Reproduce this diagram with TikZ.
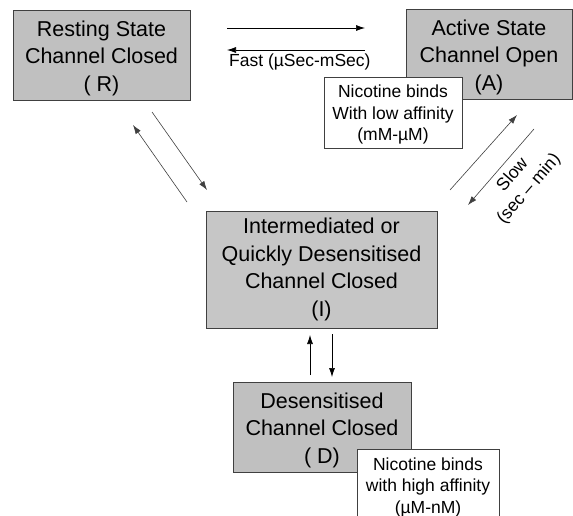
\documentclass[tikz,border=0pt]{standalone}
\usepackage{fontspec}
\setmainfont{Liberation Sans}
\usetikzlibrary{arrows.meta}
\definecolor{boxgray}{RGB}{192,192,192}
\definecolor{igray}{RGB}{198,198,198}
\definecolor{edgegray}{RGB}{64,64,64}
\newcommand\myTopStrut[1]{\rule{0pt}{#1}}
\tikzset{
  statebox/.style={draw=edgegray, line width=0.9pt, fill=boxgray, align=center,
    inner sep=0pt, font=\fontsize{21.5}{27.5}\selectfont},
  notebox/.style={draw=edgegray, line width=0.9pt, fill=white, align=center,
    inner sep=0pt, font=\fontsize{17.5}{21.5}\selectfont},
  arr/.style={line width=0.7pt, -{Latex[length=9pt,width=6pt]}},
  darr/.style={line width=0.6pt, draw=black!75, -{Latex[length=9pt,width=6pt]}},
  lbl/.style={font=\fontsize{17.5}{21.5}\selectfont, align=center, inner sep=0pt}
}
\begin{document}
\begin{tikzpicture}[x=1pt,y=-1pt]
\useasboundingbox (0,0) rectangle (573,516);
\node[statebox, minimum width=177pt, minimum height=90pt] (R) at (101.5,55) {\myTopStrut{22pt}Resting State\\Channel Closed\\( R)};
\node[statebox, minimum width=166pt, minimum height=90pt] (A) at (489,54) {\myTopStrut{22pt}Active State\\Channel Open\\(A)};
\node[notebox, minimum width=138pt, minimum height=71pt] (low) at (393,112.5) {\myTopStrut{17pt}Nicotine binds\\With low affinity\\(mM-µM)};
\node[statebox, fill=igray, minimum width=231pt, minimum height=117pt] (I) at (321.5,269.5) {Intermediated or\\Quickly Desensitised\\Channel Closed\\(I)};
\node[statebox, minimum width=178pt, minimum height=90pt] (D) at (322,427) {\myTopStrut{22pt}Desensitised\\Channel Closed\\( D)};
\node[notebox, minimum width=142pt, minimum height=76pt] (high) at (428,487) {Nicotine binds\\with high affinity\\(µM-nM)};
% top arrows
\coordinate (t1) at (227,28); \coordinate (t2) at (365,28);
\coordinate (b1) at (365,50); \coordinate (b2) at (227,50);
\draw[arr] (t1) -- (t2);
\draw[arr] (b1) -- (b2);
\node[lbl, anchor=west] (fast) at (229,62) {Fast (µSec-mSec)};
% left diagonals
\coordinate (l1) at (187,202); \coordinate (l2) at (133,125);
\coordinate (l3) at (152,112); \coordinate (l4) at (207,190);
\draw[darr] (l1) -- (l2);
\draw[darr] (l3) -- (l4);
% right diagonals
\coordinate (r1) at (450,190); \coordinate (r2) at (517,115);
\coordinate (r3) at (534,129); \coordinate (r4) at (468,205);
\draw[darr] (r1) -- (r2);
\draw[darr] (r3) -- (r4);
\node[lbl, rotate=49] (slow) at (521,182) {Slow\\(sec – min)};
% vertical arrows
\coordinate (v1) at (310,375); \coordinate (v2) at (310,335);
\coordinate (v3) at (332,334); \coordinate (v4) at (332,377);
\draw[arr] (v1) -- (v2);
\draw[arr] (v3) -- (v4);
\end{tikzpicture}
\end{document}
